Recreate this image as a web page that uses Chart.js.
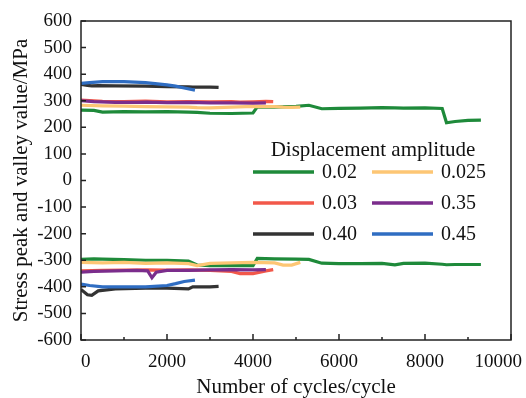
<!DOCTYPE html>
<html>
<head>
<meta charset="utf-8">
<script src="https://cdn.jsdelivr.net/npm/chart.js@4.4.1/dist/chart.umd.min.js"></script>
<style>
  html, body { margin: 0; padding: 0; background: #fff; }
  canvas { display: block; }
</style>
</head>
<body>
<canvas id="stressChart" width="526" height="398"></canvas>
<script>
const amplitudes = ['0.02', '0.025', '0.03', '0.35', '0.40', '0.45'];
const xTicks = [0, 2000, 4000, 6000, 8000, 10000];
const yTicks = [-600, -500, -400, -300, -200, -100, 0, 100, 200, 300, 400, 500, 600];

// 0.02
const cycles002 = [0, 300, 500, 1000, 1500, 2000, 2500, 2700, 3000, 3500, 4000, 4100, 4500, 5000, 5300, 5600, 6000, 6500, 7000, 7300, 7500, 8000, 8400, 8500, 8700, 9000, 9300];
const peak002 = [265, 264, 257, 259, 258, 259, 257, 256, 253, 252, 254, 277, 276, 279, 283, 270, 271, 272, 274, 273, 272, 273, 271, 217, 222, 226, 227];
const valley002 = [-297, -295, -296, -298, -300, -300, -303, -318, -320, -320, -320, -293, -295, -296, -297, -311, -313, -313, -312, -317, -312, -311, -315, -317, -316, -316, -316];

// 0.025
const cycles0025 = [0, 500, 1000, 1500, 2000, 2500, 2700, 3000, 3500, 4000, 4500, 4700, 4900, 5100];
const peak0025 = [283, 281, 280, 278, 277, 276, 274, 273, 276, 279, 278, 276, 275, 276];
const valley0025 = [-308, -310, -308, -312, -310, -313, -320, -312, -310, -308, -310, -318, -318, -308];

// 0.03
const cycles003 = [0, 500, 1000, 1500, 2000, 2500, 3000, 3500, 3700, 4000, 4300, 4470];
const peak003 = [302, 298, 297, 299, 296, 297, 296, 297, 295, 296, 298, 297];
const valley003 = [-340, -338, -337, -336, -337, -336, -338, -342, -350, -350, -340, -335];

// 0.35
const cycles035 = [0, 300, 800, 1300, 1550, 1650, 1750, 2000, 2500, 3000, 3500, 4000, 4300];
const peak035 = [300, 297, 294, 294, 295, 294, 294, 293, 294, 292, 292, 291, 292];
const valley035 = [-345, -342, -340, -338, -340, -366, -345, -338, -338, -336, -335, -336, -335];

// 0.40
const cycles040 = [0, 150, 250, 400, 800, 1500, 2000, 2500, 2600, 3000, 3200];
const peak040 = [362, 358, 356, 357, 356, 355, 353, 352, 351, 351, 350];
const valley040 = [-410, -430, -432, -415, -408, -405, -405, -408, -400, -400, -398];

// 0.45
const cycles045 = [0, 200, 500, 1000, 1500, 2000, 2200, 2400, 2650];
const peak045 = [365, 368, 372, 372, 368, 360, 355, 348, 340];
const valley045 = [-390, -395, -400, -400, -400, -395, -388, -380, -375];

const seriesColors = ['#1e8a3a', '#fdc674', '#f2584a', '#7b2d8c', '#333333', '#2f6dc2'];
const serif = '"Liberation Serif", "DejaVu Serif", serif';

const series = [
  { cycles: cycles002, peak: peak002, valley: valley002 },
  { cycles: cycles0025, peak: peak0025, valley: valley0025 },
  { cycles: cycles003, peak: peak003, valley: valley003 },
  { cycles: cycles035, peak: peak035, valley: valley035 },
  { cycles: cycles040, peak: peak040, valley: valley040 },
  { cycles: cycles045, peak: peak045, valley: valley045 }
];

const datasets = [];
series.forEach((s, i) => {
  ['peak', 'valley'].forEach(part => {
    datasets.push({
      label: amplitudes[i] + ' ' + part,
      data: s.cycles.map((c, k) => ({ x: c, y: s[part][k] })),
      borderColor: seriesColors[i],
      backgroundColor: seriesColors[i],
      borderWidth: 3.2,
      pointRadius: 0,
      tension: 0,
      fill: false,
      order: series.length - i
    });
  });
});

// box round the plot, inward ticks, x labels kept inside the canvas
const frameAndTicks = {
  id: 'frameAndTicks',
  afterDraw(chart) {
    const { ctx, chartArea: a, scales: { x, y } } = chart;
    ctx.save();
    ctx.strokeStyle = '#222';
    ctx.lineWidth = 1.5;
    ctx.strokeRect(a.left, a.top, a.right - a.left, a.bottom - a.top);
    ctx.beginPath();
    for (let v = 0; v <= 10000; v += 1000) {
      const px = x.getPixelForValue(v);
      const len = v % 2000 === 0 ? 6 : 3;
      ctx.moveTo(px, a.bottom);
      ctx.lineTo(px, a.bottom - len);
    }
    yTicks.forEach(v => {
      const py = y.getPixelForValue(v);
      ctx.moveTo(a.left, py);
      ctx.lineTo(a.left + 5, py);
    });
    ctx.stroke();

    ctx.fillStyle = '#111';
    ctx.font = '19px ' + serif;
    ctx.textBaseline = 'middle';
    ctx.textAlign = 'center';
    xTicks.forEach((v, i) => {
      const text = String(v);
      const w = ctx.measureText(text).width;
      let cx = x.getPixelForValue(v);
      if (i === 0) cx += w / 2;
      cx = Math.min(cx, chart.width - 4 - w / 2);
      ctx.fillText(text, cx, a.bottom + 22);
    });
    ctx.restore();
  }
};

const innerLegend = {
  id: 'innerLegend',
  afterDatasetsDraw(chart) {
    const ctx = chart.ctx;
    ctx.save();
    ctx.fillStyle = '#111';
    ctx.textBaseline = 'middle';
    ctx.textAlign = 'center';
    ctx.font = '21px ' + serif;
    ctx.fillText('Displacement amplitude', 373, 150);
    ctx.textAlign = 'left';
    ctx.font = '20px ' + serif;
    amplitudes.forEach((label, i) => {
      const col = i % 2;
      const row = Math.floor(i / 2);
      const x0 = col === 0 ? 253 : 372;
      const yy = 172 + row * 31;
      ctx.strokeStyle = seriesColors[i];
      ctx.lineWidth = 3.5;
      ctx.beginPath();
      ctx.moveTo(x0, yy);
      ctx.lineTo(x0 + 61, yy);
      ctx.stroke();
      ctx.fillText(label, x0 + 69, yy + 1);
    });
    ctx.restore();
  }
};

function drawChart() {
  new Chart(document.getElementById('stressChart'), {
    type: 'line',
    data: { datasets: datasets },
    options: {
      responsive: false,
      animation: false,
      layout: { padding: { top: 21, right: 15, left: 0, bottom: 0 } },
      plugins: {
        legend: { display: false },
        tooltip: { enabled: false }
      },
      scales: {
        x: {
          type: 'linear',
          min: 0,
          max: 10000,
          afterBuildTicks: scale => { scale.ticks = xTicks.map(v => ({ value: v })); },
          afterFit: scale => { scale.height = 58; scale.paddingLeft = 0; scale.paddingRight = 0; },
          grid: { display: false, drawTicks: false },
          border: { display: false },
          ticks: { display: false },
          title: {
            display: true,
            text: 'Number of cycles/cycle',
            color: '#111',
            padding: { top: 0, bottom: -2 },
            font: { family: serif, size: 21 }
          }
        },
        y: {
          type: 'linear',
          min: -600,
          max: 600,
          afterBuildTicks: scale => { scale.ticks = yTicks.map(v => ({ value: v })); },
          afterFit: scale => { scale.width = 81; scale.paddingTop = 0; scale.paddingBottom = 0; },
          grid: { display: false, drawTicks: false },
          border: { display: false },
          ticks: {
            padding: 9,
            color: '#111',
            callback: v => String(v),
            font: { family: serif, size: 19 }
          },
          title: {
            display: true,
            text: 'Stress peak and valley value/MPa',
            color: '#111',
            padding: { top: 9, bottom: 0 },
            font: { family: serif, size: 21 }
          }
        }
      }
    },
    plugins: [frameAndTicks, innerLegend]
  });
}

document.fonts.load('19px "Liberation Serif"').then(drawChart, drawChart);
</script>
</body>
</html>
